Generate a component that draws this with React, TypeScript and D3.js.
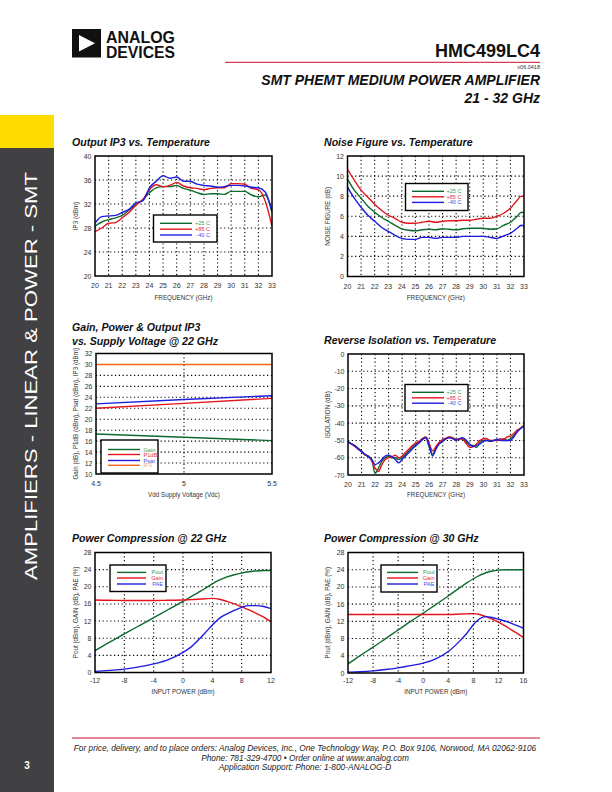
import React from 'react';
import * as d3 from 'd3';

const FONT = "'Liberation Sans', Arial, Helvetica, sans-serif";
const GREEN = '#0b6a2c';
const RED = '#e4141c';
const BLUE = '#1c1ce0';
const ORANGE = '#f2661a';
const GREEN_T = '#3f9c50';
const RED_T = '#e8303a';
const BLUE_T = '#4b4be6';
const ORANGE_T = '#f5a262';

// ---------- Output IP3 vs Temperature ----------
const ip3Freq = [20, 20.5, 21, 21.5, 22, 22.5, 23, 23.5, 24, 24.5, 25, 25.5, 26, 26.5, 27, 27.5, 28, 28.5, 29, 29.5, 30, 30.5, 31, 31.5, 32, 32.5, 33];
const ip3P25 = [28.3, 29.0, 29.4, 29.7, 30.1, 31.0, 31.9, 32.7, 33.9, 34.7, 34.9, 34.9, 35.1, 34.6, 34.3, 33.9, 33.6, 33.7, 33.7, 33.6, 34.1, 34.1, 34.1, 33.5, 33.2, 33.5, 30.6];
const ip3P85 = [27.4, 28.0, 28.8, 28.9, 29.7, 30.6, 31.8, 32.7, 34.4, 35.2, 34.9, 35.1, 35.6, 35.0, 34.7, 34.6, 34.4, 34.6, 34.7, 34.7, 35.4, 35.4, 35.3, 34.6, 34.4, 32.5, 28.3];
const ip3M40 = [28.8, 29.9, 30.0, 30.1, 30.6, 31.1, 32.2, 32.5, 34.7, 35.8, 36.7, 36.3, 36.5, 35.8, 35.8, 35.3, 35.1, 35.0, 34.8, 34.9, 35.1, 35.1, 35.0, 34.8, 34.7, 34.0, 30.8];

// ---------- Noise Figure vs Temperature ----------
const nfFreq = [20, 20.5, 21, 21.5, 22, 22.5, 23, 23.5, 24, 24.5, 25, 25.5, 26, 26.5, 27, 27.5, 28, 28.5, 29, 29.5, 30, 30.5, 31, 31.5, 32, 32.5, 32.8, 33];
const nfP25 = [9.7, 8.6, 7.8, 7.0, 6.4, 5.9, 5.5, 5.1, 4.75, 4.6, 4.55, 4.65, 4.7, 4.65, 4.75, 4.7, 4.65, 4.75, 4.8, 4.8, 4.8, 4.7, 4.75, 5.1, 5.4, 6.0, 6.4, 6.35];
const nfP85 = [10.68, 9.6, 8.6, 7.9, 7.2, 6.6, 6.1, 5.8, 5.4, 5.3, 5.3, 5.4, 5.5, 5.4, 5.5, 5.55, 5.55, 5.6, 5.6, 5.7, 5.8, 5.8, 6.0, 6.3, 6.8, 7.6, 8.0, 7.95];
const nfM40 = [8.9, 7.8, 6.9, 6.1, 5.5, 4.9, 4.5, 4.1, 3.8, 3.7, 3.7, 3.9, 3.9, 3.8, 3.9, 3.9, 3.9, 4.0, 4.0, 4.0, 4.0, 3.9, 3.8, 4.05, 4.3, 4.8, 5.1, 5.0];

// ---------- Gain, Power & IP3 vs Supply ----------
const vdd = [4.5, 5.0, 5.5];
const gainV = [17.3, 16.7, 16.1];
const p1dbV = [22.0, 22.9, 23.8];
const psatV = [22.8, 23.6, 24.3];
const ip3V = [30.0, 30.0, 30.0];

// ---------- Reverse Isolation ----------
const isoFreq = [20, 20.25, 20.5, 20.75, 21, 21.25, 21.5, 21.75, 22, 22.25, 22.5, 22.75, 23, 23.25, 23.5, 23.75, 24, 24.25, 24.5, 24.75, 25, 25.25, 25.5, 25.75, 26, 26.25, 26.5, 26.75, 27, 27.25, 27.5, 27.75, 28, 28.25, 28.5, 28.75, 29, 29.25, 29.5, 29.75, 30, 30.25, 30.5, 30.75, 31, 31.25, 31.5, 31.75, 32, 32.25, 32.5, 32.75, 33];
const isoP25 = [-51, -52, -53, -54.5, -56, -58, -59, -61, -69, -66, -62, -60, -59, -60, -60, -61, -60, -58, -56, -54, -52, -51, -49, -48.5, -54, -58, -54, -51, -50, -49, -48, -48.5, -49.5, -49, -49, -51, -52.5, -53, -54, -51, -50, -50, -50.5, -50, -49.5, -50, -49, -50, -49, -47, -45, -43, -41];
const isoP85 = [-51, -52, -53.5, -55, -56.5, -58.5, -59, -62, -66, -68, -64, -61, -60, -59.5, -58.5, -60, -59, -57, -55, -53, -51.5, -50.5, -49, -48, -52, -56, -53.5, -51, -49.5, -48.5, -48, -49, -49.5, -49, -49.5, -52, -54, -53.5, -52, -50, -49, -49, -50, -50, -50, -49, -49.5, -48, -47.5, -46, -44, -43, -41.5];
const isoM40 = [-50.5, -52, -53, -55, -56.5, -58, -59.5, -61, -64, -63, -61, -59, -58.5, -59.5, -61, -63, -61, -59, -57, -55, -53, -51.5, -49.5, -48.5, -53, -59, -55, -52, -50.5, -49, -48.5, -49, -50, -49, -48.5, -50, -52.5, -53.5, -53, -52, -50.5, -50, -50.5, -50, -49.5, -50, -50, -50, -50, -48, -45, -43, -42];

// ---------- Power Compression @ 22 GHz ----------
const pin22 = [-12, -10, -8, -6, -4, -2, 0, 1, 2, 3, 4, 5, 6, 7, 8, 9, 10, 11, 12];
const pout22 = [5.1, 7.1, 9.0, 10.9, 12.8, 14.7, 16.6, 17.6, 18.6, 19.6, 20.7, 21.6, 22.3, 22.8, 23.2, 23.5, 23.7, 23.8, 23.8];
const gain22 = [16.9, 16.85, 16.8, 16.8, 16.8, 16.85, 16.9, 17.0, 17.1, 17.2, 17.3, 17.1, 16.6, 16.0, 15.3, 14.6, 13.8, 12.9, 11.8];
const pae22 = [0.25, 0.5, 0.8, 1.3, 2.0, 3.0, 4.7, 5.8, 7.4, 9.2, 11.1, 12.7, 13.7, 14.5, 15.2, 15.6, 15.6, 15.4, 14.9];

// ---------- Power Compression @ 30 GHz ----------
const pin30 = [-12, -10, -8, -6, -4, -2, 0, 2, 4, 6, 7, 8, 9, 10, 11, 12, 13, 14, 15, 16];
const pout30 = [2.1, 4.1, 6.0, 8.0, 10.0, 12.0, 13.9, 15.9, 17.9, 20.0, 21.0, 21.9, 22.7, 23.3, 23.7, 23.9, 24.0, 24.0, 24.0, 24.0];
const gain30 = [13.6, 13.6, 13.6, 13.6, 13.6, 13.6, 13.6, 13.6, 13.6, 13.7, 13.75, 13.8, 13.6, 13.1, 12.5, 11.8, 11.0, 10.1, 9.2, 8.2];
const pae30 = [0.2, 0.3, 0.5, 0.8, 1.2, 1.7, 2.3, 3.3, 5.0, 7.7, 9.3, 11.2, 12.6, 13.1, 12.9, 12.5, 12.1, 11.6, 11.0, 10.4];

// ---------- ticks ----------
const freqTicks = [20, 21, 22, 23, 24, 25, 26, 27, 28, 29, 30, 31, 32, 33];
const ip3Ticks = [20, 24, 28, 32, 36, 40];
const nfTicks = [0, 2, 4, 6, 8, 10, 12];
const vddTicks = [4.5, 5, 5.5];
const vddTickLabels = ['4.5', '5', '5.5'];
const supplyYTicks = [10, 12, 14, 16, 18, 20, 22, 24, 26, 28, 30, 32];
const isoTicks = [-70, -60, -50, -40, -30, -20, -10, 0];
const pin22Ticks = [-12, -8, -4, 0, 4, 8, 12];
const pin30Ticks = [-12, -8, -4, 0, 4, 8, 12, 16];
const compYTicks = [0, 4, 8, 12, 16, 20, 24, 28];

const tempLabels = ['+25 C', '+85 C', '-40 C'];
const supplyLabels = ['Gain', 'P1dB', 'Psat', 'IP3'];
const compLabels = ['Pout', 'Gain', 'PAE'];

type S = { xs: number[]; ys: number[]; color: string; curve?: any };
type Leg = {
  x: number; y: number; w: number; h: number; lx0: number; lx1: number; tx: number;
  anchor: string; rows: number[]; labels: string[]; colors: string[]; tcolors: string[];
};

type ChartProps = {
  id: string;
  x0: number; x1: number; y0: number; y1: number;
  xDomain: [number, number]; yDomain: [number, number];
  xTicks: number[]; xTickLabels?: string[]; yTicks: number[];
  xGrid: number[]; yGrid: number[];
  series: S[]; legend: Leg;
  title: string[]; titleX: number; titleYs: number[];
  xTitle: string; xTitleY: number; yTitle: string; yTitleX: number; xTickY: number;
};

function Chart(p: ChartProps) {
  const sx = d3.scaleLinear().domain(p.xDomain).range([p.x0, p.x1]);
  const sy = d3.scaleLinear().domain(p.yDomain).range([p.y1, p.y0]);
  const cy = (p.y0 + p.y1) / 2;
  const cx = (p.x0 + p.x1) / 2;
  return (
    <g>
      <defs>
        <clipPath id={p.id}>
          <rect x={p.x0} y={p.y0} width={p.x1 - p.x0} height={p.y1 - p.y0} />
        </clipPath>
      </defs>
      {p.title.map((t, i) => (
        <text key={i} x={p.titleX} y={p.titleYs[i]} fontFamily={FONT} fontSize={10.6} fontWeight="bold" fontStyle="italic" fill="#111">{t}</text>
      ))}
      {p.xGrid.map((v) => (
        <line key={'gx' + v} x1={sx(v)} x2={sx(v)} y1={p.y0} y2={p.y1} stroke="#000" strokeWidth={1.1} strokeDasharray="1.2,2.6" />
      ))}
      {p.yGrid.map((v) => (
        <line key={'gy' + v} x1={p.x0} x2={p.x1} y1={sy(v)} y2={sy(v)} stroke="#000" strokeWidth={1.1} strokeDasharray="1.2,2.6" />
      ))}
      <g clipPath={`url(#${p.id})`}>
        {p.series.map((s, i) => {
          const line = d3.line<number>().x((_, j) => sx(s.xs[j])).y((d) => sy(d)).curve(s.curve || d3.curveMonotoneX);
          return <path key={i} d={line(s.ys) || ''} fill="none" stroke={s.color} strokeWidth={1.4} strokeLinejoin="round" />;
        })}
      </g>
      <rect x={p.x0} y={p.y0} width={p.x1 - p.x0} height={p.y1 - p.y0} fill="none" stroke="#000" strokeWidth={1.5} />
      {p.yTicks.map((v) => (
        <text key={'yt' + v} x={p.x0 - 3.5} y={sy(v) + 2.5} textAnchor="end" fontFamily={FONT} fontSize={7} fill="#333">{v}</text>
      ))}
      {p.xTicks.map((v, i) => (
        <text key={'xt' + v} x={sx(v)} y={p.xTickY} textAnchor="middle" fontFamily={FONT} fontSize={7} fill="#333">{p.xTickLabels ? p.xTickLabels[i] : v}</text>
      ))}
      <text x={cx} y={p.xTitleY} textAnchor="middle" fontFamily={FONT} fontSize={6.3} fill="#333">{p.xTitle}</text>
      <text transform={`translate(${p.yTitleX},${cy}) rotate(-90)`} textAnchor="middle" fontFamily={FONT} fontSize={6.3} fill="#333">{p.yTitle}</text>
      <rect x={p.legend.x} y={p.legend.y} width={p.legend.w} height={p.legend.h} fill="#fff" stroke="#000" strokeWidth={1.4} />
      {p.legend.rows.map((ry, i) => (
        <g key={'lg' + i}>
          <line x1={p.legend.lx0} x2={p.legend.lx1} y1={ry} y2={ry} stroke={p.legend.colors[i]} strokeWidth={1.4} />
          <text x={p.legend.tx} y={ry + 2} textAnchor={p.legend.anchor as any} fontFamily={FONT} fontSize={5.6} fill={p.legend.tcolors[i]}>{p.legend.labels[i]}</text>
        </g>
      ))}
    </g>
  );
}

const tempColors = [GREEN, RED, BLUE];
const tempTColors = [GREEN_T, RED_T, BLUE_T];

export default function App() {
  return (
    <svg width={612} height={792} viewBox="0 0 612 792" style={{ position: 'absolute', left: 0, top: 0, background: '#fff' }}>
      <rect x={0} y={0} width={612} height={792} fill="#fff" />
      {/* sidebar */}
      <rect x={0} y={115} width={54} height={677} fill="#414042" />
      <rect x={0} y={115} width={54} height={33} fill="#ffdc00" />
      <text transform="translate(37,376) rotate(-90)" textAnchor="middle" fontFamily={FONT} fontSize={16} fill="#fff" textLength={408} lengthAdjust="spacingAndGlyphs">AMPLIFIERS - LINEAR &amp; POWER - SMT</text>
      <text x={27} y={769} textAnchor="middle" fontFamily={FONT} fontSize={10} fontWeight="bold" fill="#fff">3</text>

      {/* header */}
      <rect x={72} y={29} width={29} height={28.5} fill="#111" />
      <path d="M79,35 L95,43.25 L79,51.5 Z" fill="#fff" />
      <text x={106} y={42.5} fontFamily={FONT} fontSize={16} fontWeight="bold" fill="#111" textLength={69} lengthAdjust="spacingAndGlyphs">ANALOG</text>
      <text x={106} y={57.5} fontFamily={FONT} fontSize={16} fontWeight="bold" fill="#111" textLength={69} lengthAdjust="spacingAndGlyphs">DEVICES</text>
      <text x={540} y={57} textAnchor="end" fontFamily={FONT} fontSize={18} fontWeight="bold" fill="#111">HMC499LC4</text>
      <line x1={225} x2={540} y1={62.3} y2={62.3} stroke="#c8102e" strokeWidth={1} />
      <text x={540} y={69} textAnchor="end" fontFamily={FONT} fontSize={5.5} fill="#333">v06.0418</text>
      <text x={540} y={85} textAnchor="end" fontFamily={FONT} fontSize={14} fontWeight="bold" fontStyle="italic" fill="#111">SMT PHEMT MEDIUM POWER AMPLIFIER</text>
      <text x={540} y={103} textAnchor="end" fontFamily={FONT} fontSize={14} fontWeight="bold" fontStyle="italic" fill="#111">21 - 32 GHz</text>

      <Chart
        id="c1" x0={95} x1={272} y0={156} y1={276}
        xDomain={[20, 33]} yDomain={[20, 40]}
        xTicks={freqTicks} yTicks={ip3Ticks}
        xGrid={freqTicks.slice(1, -1)} yGrid={ip3Ticks.slice(1, -1)}
        series={[
          { xs: ip3Freq, ys: ip3P25, color: GREEN },
          { xs: ip3Freq, ys: ip3P85, color: RED },
          { xs: ip3Freq, ys: ip3M40, color: BLUE },
        ]}
        legend={{ x: 153.5, y: 215, w: 63.5, h: 27, lx0: 160, lx1: 192, tx: 210, anchor: 'end', rows: [223.3, 229.2, 235], labels: tempLabels, colors: tempColors, tcolors: tempTColors }}
        title={['Output IP3 vs. Temperature']} titleX={72} titleYs={[146]}
        xTitle="FREQUENCY (GHz)" xTitleY={300} yTitle="IP3 (dBm)" yTitleX={77.5} xTickY={288}
      />
      <Chart
        id="c2" x0={347.5} x1={524} y0={156} y1={276.5}
        xDomain={[20, 33]} yDomain={[0, 12]}
        xTicks={freqTicks} yTicks={nfTicks}
        xGrid={freqTicks.slice(1, -1)} yGrid={nfTicks.slice(1, -1)}
        series={[
          { xs: nfFreq, ys: nfP25, color: GREEN },
          { xs: nfFreq, ys: nfP85, color: RED },
          { xs: nfFreq, ys: nfM40, color: BLUE },
        ]}
        legend={{ x: 405.5, y: 183.5, w: 62.5, h: 27, lx0: 412, lx1: 444, tx: 461.5, anchor: 'end', rows: [191.3, 196.8, 202.4], labels: tempLabels, colors: tempColors, tcolors: tempTColors }}
        title={['Noise Figure vs. Temperature']} titleX={324} titleYs={[146]}
        xTitle="FREQUENCY (GHz)" xTitleY={300} yTitle="NOISE FIGURE (dB)" yTitleX={329.5} xTickY={288.5}
      />
      <Chart
        id="c3" x0={96} x1={272} y0={353.5} y1={474}
        xDomain={[4.5, 5.5]} yDomain={[10, 32]}
        xTicks={vddTicks} xTickLabels={vddTickLabels} yTicks={supplyYTicks}
        xGrid={[5]} yGrid={supplyYTicks.slice(1, -1)}
        series={[
          { xs: vdd, ys: gainV, color: GREEN, curve: d3.curveLinear },
          { xs: vdd, ys: p1dbV, color: RED, curve: d3.curveLinear },
          { xs: vdd, ys: psatV, color: BLUE, curve: d3.curveLinear },
          { xs: vdd, ys: ip3V, color: ORANGE, curve: d3.curveLinear },
        ]}
        legend={{ x: 101, y: 440, w: 57, h: 33, lx0: 108, lx1: 140, tx: 143.5, anchor: 'start', rows: [449.5, 454.5, 460.5, 465.3], labels: supplyLabels, colors: [GREEN, RED, BLUE, ORANGE], tcolors: [GREEN_T, RED_T, BLUE_T, ORANGE_T] }}
        title={['Gain, Power & Output IP3', 'vs. Supply Voltage @ 22 GHz']} titleX={72} titleYs={[331, 345]}
        xTitle="Vdd Supply Voltage (Vdc)" xTitleY={496.5} yTitle="Gain (dB), P1dB (dBm), Psat (dBm), IP3 (dBm)" yTitleX={77.5} xTickY={486}
      />
      <Chart
        id="c4" x0={348} x1={524} y0={354} y1={475}
        xDomain={[20, 33]} yDomain={[-70, 0]}
        xTicks={freqTicks} yTicks={isoTicks}
        xGrid={freqTicks.slice(1, -1)} yGrid={isoTicks.slice(1, -1)}
        series={[
          { xs: isoFreq, ys: isoP25, color: GREEN, curve: d3.curveCatmullRom },
          { xs: isoFreq, ys: isoP85, color: RED, curve: d3.curveCatmullRom },
          { xs: isoFreq, ys: isoM40, color: BLUE, curve: d3.curveCatmullRom },
        ]}
        legend={{ x: 405, y: 384.5, w: 63, h: 26.5, lx0: 412, lx1: 444, tx: 461.5, anchor: 'end', rows: [392.3, 397.8, 403.2], labels: tempLabels, colors: tempColors, tcolors: tempTColors }}
        title={['Reverse Isolation vs. Temperature']} titleX={324} titleYs={[344]}
        xTitle="FREQUENCY (GHz)" xTitleY={496.5} yTitle="ISOLATION (dB)" yTitleX={329.5} xTickY={487}
      />
      <Chart
        id="c5" x0={95} x1={271} y0={552.5} y1={672.5}
        xDomain={[-12, 12]} yDomain={[0, 28]}
        xTicks={pin22Ticks} yTicks={compYTicks}
        xGrid={pin22Ticks.slice(1, -1)} yGrid={compYTicks.slice(1, -1)}
        series={[
          { xs: pin22, ys: pout22, color: GREEN },
          { xs: pin22, ys: gain22, color: RED },
          { xs: pin22, ys: pae22, color: BLUE },
        ]}
        legend={{ x: 110, y: 565, w: 56, h: 26.5, lx0: 117, lx1: 146, tx: 163, anchor: 'end', rows: [572.4, 578, 584], labels: compLabels, colors: tempColors, tcolors: tempTColors }}
        title={['Power Compression @ 22 GHz']} titleX={72} titleYs={[542]}
        xTitle="INPUT POWER (dBm)" xTitleY={694} yTitle="Pout (dBm), GAIN (dB), PAE (%)" yTitleX={77.5} xTickY={682.5}
      />
      <Chart
        id="c6" x0={348} x1={523.5} y0={552.5} y1={673}
        xDomain={[-12, 16]} yDomain={[0, 28]}
        xTicks={pin30Ticks} yTicks={compYTicks}
        xGrid={pin30Ticks.slice(1, -1)} yGrid={compYTicks.slice(1, -1)}
        series={[
          { xs: pin30, ys: pout30, color: GREEN },
          { xs: pin30, ys: gain30, color: RED },
          { xs: pin30, ys: pae30, color: BLUE },
        ]}
        legend={{ x: 381, y: 565, w: 56, h: 27, lx0: 387, lx1: 418, tx: 434.5, anchor: 'end', rows: [572.4, 578, 584], labels: compLabels, colors: tempColors, tcolors: tempTColors }}
        title={['Power Compression @ 30 GHz']} titleX={324} titleYs={[542]}
        xTitle="INPUT POWER (dBm)" xTitleY={694} yTitle="Pout (dBm), GAIN (dB), PAE (%)" yTitleX={329.5} xTickY={682.5}
      />

      {/* footer */}
      <line x1={72} x2={540} y1={738} y2={738} stroke="#c8102e" strokeWidth={1} />
      <text x={305} y={751} textAnchor="middle" fontFamily={FONT} fontSize={8.3} fontStyle="italic" fill="#222">For price, delivery, and to place orders: Analog Devices, Inc., One Technology Way, P.O. Box 9106, Norwood, MA 02062-9106</text>
      <text x={305} y={760.5} textAnchor="middle" fontFamily={FONT} fontSize={8.3} fontStyle="italic" fill="#222">Phone: 781-329-4700 • Order online at www.analog.com</text>
      <text x={305} y={770} textAnchor="middle" fontFamily={FONT} fontSize={8.3} fontStyle="italic" fill="#222">Application Support: Phone: 1-800-ANALOG-D</text>
    </svg>
  );
}
